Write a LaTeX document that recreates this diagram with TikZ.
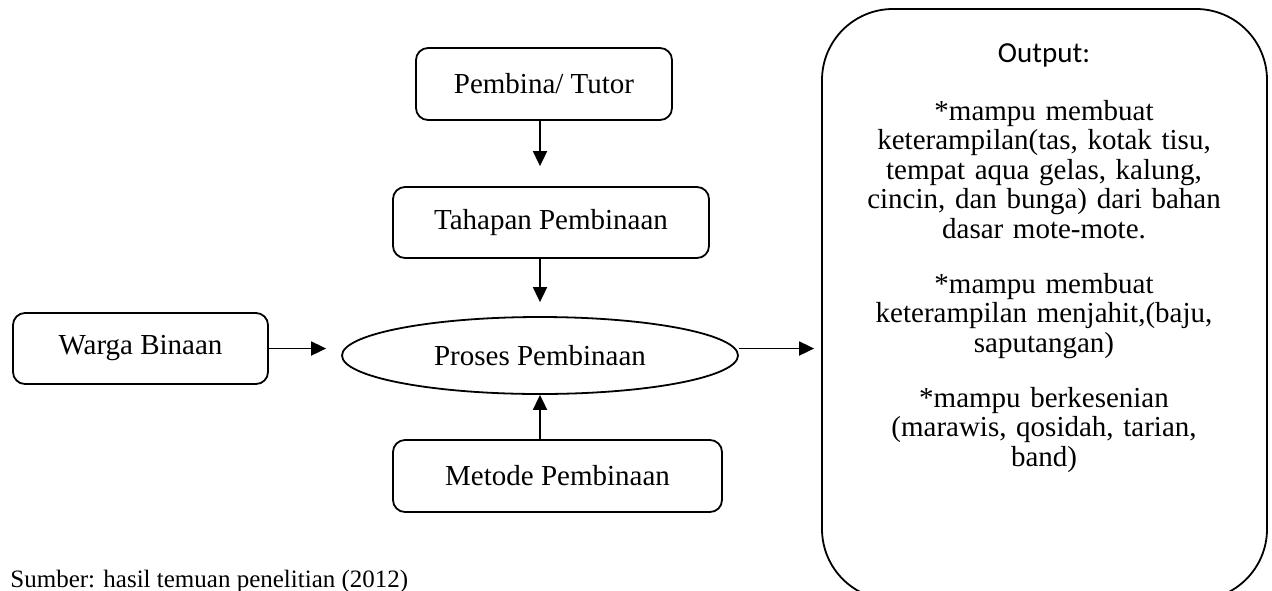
\documentclass[tikz,border=0pt]{standalone}
\usepackage{fontspec}
\setmainfont{Liberation Serif}
\newfontfamily\calibri{Carlito}
\usepackage{tikz}
\usetikzlibrary{arrows.meta,shapes}
\newcommand{\linew}{0.9pt}
\newcommand{\parskp}{12.75pt}

\begin{document}
\begin{tikzpicture}[x=0.5pt,y=-0.5pt]
                %\draw[help lines] (0,0) grid (1272,590);
                \clip (0,0) rectangle (1272,590);
                \tikzset{box/.style = {draw, rounded corners=6pt, line width=\linew, font=\fontsize{14.5}{15}\selectfont},
                         arr/.style = {-{Triangle[length=7.5pt,width=7pt]}, line width=\linew}}
                \node[box, minimum width=128pt, minimum height=36pt] (pembina) at (544,84) {Pembina/ Tutor};
                \node[box, minimum width=158pt, minimum height=35.5pt] (tahapan) at (551,222.5) {Tahapan Pembinaan};
                \node[box, minimum width=127.5pt, minimum height=35.5pt] (warga) at (140.5,348.5) {Warga Binaan};
                \node[box, ellipse, minimum width=198pt, minimum height=38.5pt] (proses) at (540,355.5) {Proses Pembinaan};
                \node[box, minimum width=164.5pt, minimum height=36pt] (metode) at (557.5,476) {Metode Pembinaan};
                \node[box, rounded corners=35.5pt, minimum width=222.5pt, minimum height=295.5pt] (output) at (1044.5,304.5) {};
                % isi kotak output
                \node[anchor=base, font=\calibri\fontsize{14.5}{15}\selectfont] (judul) at (1044,62) {Output:};
                \node[anchor=base, text width=190pt, align=center, font=\fontsize{14.5}{14.75}\selectfont] (hasil) at (1044,120)
                        {*mampu membuat\\ keterampilan(tas, kotak tisu,\\ tempat aqua gelas, kalung,\\ cincin, dan bunga) dari bahan\\ dasar mote-mote.\\[\parskp]
                         *mampu membuat\\ keterampilan menjahit,(baju,\\ saputangan)\\[\parskp]
                         *mampu berkesenian\\ (marawis, qosidah, tarian,\\ band)};
                \node[anchor=base west, inner sep=0pt, font=\fontsize{12.5}{14}\selectfont] (sumber) at (10,587) {Sumber: hasil temuan penelitian (2012)};
                % panah
                \draw[arr, shorten >=10pt] (pembina.south -| proses) -- (tahapan.north -| proses);
                \draw[arr, shorten >=7pt] (tahapan.south -| proses) -- (proses.north);
                \draw[arr, shorten >=7.5pt] (warga.east) -- (warga.east -| proses.west);
                \draw[arr, shorten >=3.5pt] (proses.east |- warga.east) -- (output.west |- warga.east);
                \draw[arr] (metode.north -| proses) -- (proses.south);
        \end{tikzpicture}
\end{document}
